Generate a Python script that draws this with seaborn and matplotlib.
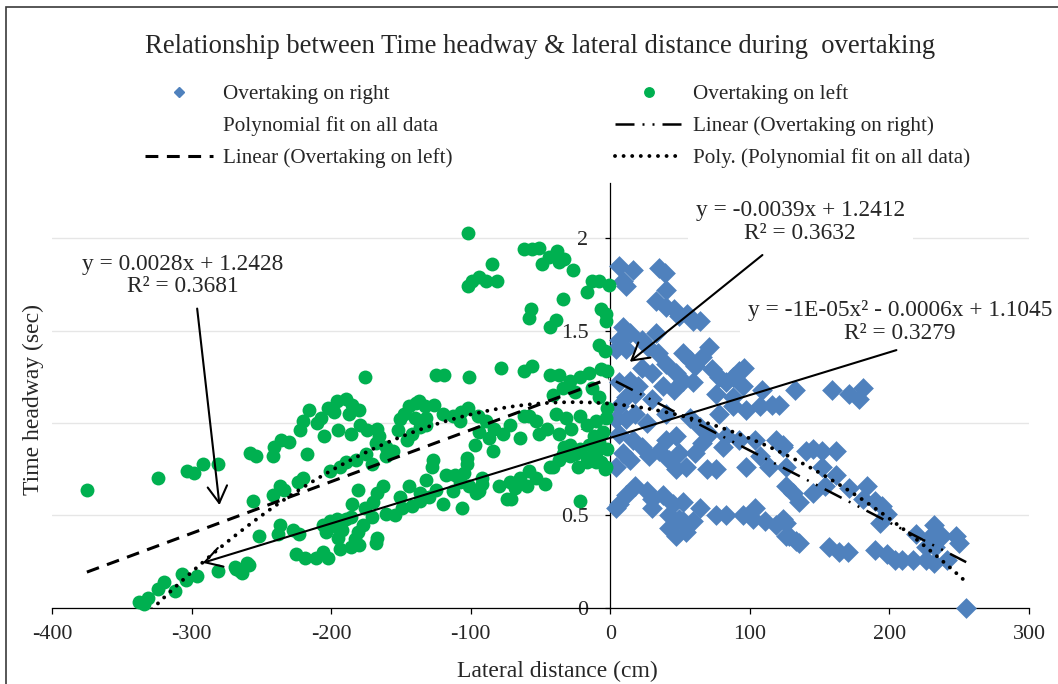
import numpy as np
import pandas as pd
import matplotlib
matplotlib.use("Agg")
import matplotlib.pyplot as plt
from matplotlib.lines import Line2D
from matplotlib.patches import Rectangle
import seaborn as sns

# ---------------- data ----------------
TITLE = "Relationship between Time headway & lateral distance during  overtaking"
X_LABEL = "Lateral distance (cm)"
Y_LABEL = "Time headway (sec)"
X_TICKS = [-400, -300, -200, -100, 0, 100, 200, 300]
Y_TICKS = [0, 0.5, 1, 1.5, 2]
Y_TICK_LABELS = ["0", "0.5", "1", "1.5", "2"]

SERIES_LABELS = ["Overtaking on right", "Polynomial fit on all data",
                 "Linear (Overtaking on left)", "Overtaking on left",
                 "Linear (Overtaking on right)", "Poly. (Polynomial fit on all data)"]

# Overtaking on right (blue diamonds)
RIGHT_X = [6, 16, 9, 11, 35, 39, 40, 33, 40, 46,
           49, 55, 59, 64, 6, 9, 14, 4, 11, 23,
           27, 34, 40, 23, 30, 14, 20, 6, 52, 57,
           71, 66, 61, 73, 78, 83, 88, 92, 96, 95,
           88, 52, 46, 47, 38, 30, 18, 11, 6, 4,
           11, 18, 26, 6, 16, 23, 9, 14, 4, 28,
           35, 40, 47, 42, 49, 54, 47, 61, 66, 64,
           71, 57, 40, 69, 76, 81, 83, 92, 78, 88,
           97, 107, 109, 116, 104, 119, 124, 107, 114, 97,
           126, 132, 140, 18, 11, 26, 30, 38, 6, 45,
           52, 42, 49, 42, 47, 54, 59, 64, 76, 83,
           95, 102, 104, 111, 119, 124, 128, 133, 30, 52,
           4, 159, 171, 178, 181, 121, 124, 145, 152, 162,
           152, 162, 154, 145, 135, 126, 131, 171, 184, 181,
           190, 195, 198, 193, 126, 135, 126, 157, 164, 170,
           190, 198, 204, 209, 217, 219, 230, 232, 238, 248,
           250, 233, 226, 232, 241, 226, 255, 33, 59, 76]
RIGHT_Y = [1.85, 1.83, 1.77, 1.74, 1.84, 1.81, 1.72, 1.66, 1.63, 1.62,
           1.58, 1.59, 1.55, 1.55, 1.45, 1.52, 1.49, 1.40, 1.40, 1.45,
           1.41, 1.38, 1.32, 1.30, 1.27, 1.23, 1.20, 1.22, 1.38, 1.34,
           1.41, 1.36, 1.31, 1.29, 1.25, 1.22, 1.25, 1.28, 1.30, 1.20,
           1.14, 1.23, 1.18, 1.27, 1.20, 1.13, 1.16, 1.14, 1.09, 1.02,
           1.02, 1.05, 1.00, 0.94, 0.91, 0.87, 0.84, 0.80, 0.76, 0.82,
           0.85, 0.91, 0.93, 0.80, 0.84, 0.76, 0.75, 0.84, 0.89, 0.98,
           0.94, 1.03, 1.05, 0.75, 0.75, 0.87, 0.93, 0.91, 1.05, 1.09,
           1.07, 1.09, 1.18, 1.10, 0.91, 0.91, 0.87, 0.82, 0.76, 0.76,
           0.76, 1.18, 0.85, 0.66, 0.61, 0.63, 0.59, 0.61, 0.56, 0.56,
           0.57, 0.50, 0.48, 0.43, 0.39, 0.41, 0.47, 0.54, 0.50, 0.50,
           0.50, 0.48, 0.54, 0.47, 0.45, 0.48, 0.39, 0.36, 0.54, 0.47,
           0.54, 1.18, 1.16, 1.13, 1.19, 1.10, 0.88, 0.86, 0.85, 0.85,
           0.76, 0.72, 0.66, 0.62, 0.57, 0.66, 0.62, 0.65, 0.66, 0.59,
           0.58, 0.55, 0.51, 0.46, 0.46, 0.35, 0.39, 0.33, 0.30, 0.30,
           0.31, 0.29, 0.26, 0.26, 0.26, 0.40, 0.39, 0.45, 0.39, 0.39,
           0.35, 0.33, 0.33, 0.24, 0.26, 0.26, 0.00, 1.49, 1.22, 1.16]

# Overtaking on left (green circles)
LEFT_X = [-375, -324, -303, -298, -292, -281, -258, -254, -256, -252,
          -259, -265, -269, -281, -296, -307, -304, -312, -320, -324,
          -331, -338, -334, -260, -268, -264, -176, -241, -236, -230,
          -242, -217, -220, -216, -222, -210, -205, -207, -202, -196,
          -198, -189, -185, -180, -187, -195, -186, -179, -174, -167,
          -166, -168, -161, -156, -152, -151, -148, -144, -139, -133,
          -132, -140, -136, -126, -125, -142, -146, -161, -171, -175,
          -182, -189, -194, -201, -220, -224, -237, -242, -234, -181,
          -185, -163, -167, -170, -176, -171, -177, -181, -183, -186,
          -180, -194, -195, -192, -189, -186, -196, -201, -206, -199,
          -204, -167, -168, -206, -202, -211, -219, -225, -227, -223,
          -237, -238, -161, -154, -151, -144, -149, -142, -136, -132,
          -128, -127, -130, -125, -136, -102, -102, -99, -94, -89,
          -85, -81, -62, -56, -51, -49, -44, -38, -37, -33,
          -27, -34, -57, -58, -43, -39, -17, -13, -8, -1,
          -7, -3, -3, -8, -4, -119, -101, -78, -62, -56,
          -43, -37, -29, -22, -15, -7, -2, -41, -34, -25,
          -13, -8, -2, -39, -32, -22, -28, -17, -10, -3,
          -37, -29, -34, -22, -15, -8, -2, -17, -10, -3,
          -7, -41, -25, -22, -107, -102, -95, -89, -83, -77,
          -72, -65, -58, -53, -51, -45, -62, -108, -94, -87,
          -97, -84, -103, -120, -113, -118, -111, -108, -101, -94,
          -92, -113, -120, -106, -80, -72, -74, -65, -58, -53,
          -47, -60, -68, -71, -43, -37, -29, -23, -17, -10,
          -4, -33, -105, -103, -96, -92, -137, -132, -5, -12]
LEFT_Y = [0.64, 0.70, 0.74, 0.73, 0.78, 0.78, 0.84, 0.82, 0.58, 0.39,
          0.23, 0.20, 0.22, 0.20, 0.17, 0.18, 0.15, 0.09, 0.14, 0.10,
          0.05, 0.03, 0.02, 0.24, 0.21, 0.19, 1.25, 0.87, 0.91, 0.90,
          0.82, 0.83, 1.01, 1.07, 0.96, 1.00, 0.93, 1.03, 1.08, 1.12,
          1.06, 1.13, 1.10, 1.07, 1.05, 0.96, 0.94, 0.99, 0.96, 0.97,
          0.93, 0.89, 0.87, 0.85, 0.96, 1.02, 1.05, 1.09, 1.11, 1.09,
          1.03, 1.03, 0.98, 1.10, 1.26, 0.94, 0.91, 0.82, 0.78, 0.83,
          0.80, 0.79, 0.76, 0.74, 0.70, 0.68, 0.66, 0.61, 0.64, 0.64,
          0.56, 0.66, 0.62, 0.57, 0.54, 0.49, 0.45, 0.41, 0.37, 0.33,
          0.34, 0.32, 0.38, 0.42, 0.48, 0.49, 0.48, 0.47, 0.45, 0.44,
          0.41, 0.38, 0.35, 0.30, 0.27, 0.27, 0.27, 0.29, 0.42, 0.40,
          0.45, 0.40, 0.51, 0.50, 0.60, 0.66, 0.54, 0.55, 0.62, 0.69,
          0.76, 0.80, 0.60, 0.64, 0.58, 2.03, 1.74, 1.77, 1.79, 1.77,
          1.86, 1.77, 1.94, 1.94, 1.95, 1.86, 1.90, 1.93, 1.87, 1.89,
          1.83, 1.67, 1.62, 1.57, 1.52, 1.56, 1.71, 1.77, 1.77, 1.75,
          1.62, 1.59, 1.55, 1.42, 1.39, 1.26, 1.25, 1.30, 1.28, 1.31,
          1.26, 1.26, 1.23, 1.25, 1.27, 1.29, 1.28, 1.15, 1.19, 1.17,
          1.19, 1.14, 1.08, 1.05, 1.03, 1.04, 0.97, 0.99, 1.01, 1.03,
          0.94, 0.88, 0.83, 0.86, 0.88, 0.90, 0.86, 0.79, 0.79, 0.76,
          0.79, 0.76, 0.83, 0.58, 1.06, 1.08, 1.04, 1.01, 0.97, 0.94,
          0.99, 0.92, 1.04, 1.01, 0.94, 0.97, 1.04, 1.01, 0.95, 0.92,
          0.88, 0.85, 0.81, 1.05, 1.04, 0.72, 0.72, 0.68, 0.66, 0.63,
          0.70, 0.63, 0.56, 0.54, 0.66, 0.68, 0.59, 0.70, 0.74, 0.70,
          0.67, 0.66, 0.65, 0.59, 0.76, 0.80, 0.82, 0.76, 0.81, 0.84,
          0.75, 0.87, 0.73, 0.78, 0.62, 0.67, 1.12, 0.99, 0.95, 0.93]

# trendline coefficients (highest power first), as labelled on the chart
LIN_LEFT = [0.0028, 1.2428]
LIN_RIGHT = [-0.0039, 1.2412]
POLY_ALL = [-1.23e-05, -0.00065, 1.1045]

EQ_LEFT = "y = 0.0028x + 1.2428\nR² = 0.3681"
EQ_RIGHT = "y = -0.0039x + 1.2412\nR² = 0.3632"
EQ_POLY = "y = -1E-05x² - 0.0006x + 1.1045\nR² = 0.3279"

# ---------------- style ----------------
BLUE = "#4F81BD"
GREEN = "#00B050"
sns.set_style("white")
plt.rcParams["font.family"] = ["Liberation Serif", "DejaVu Serif"]
plt.rcParams["axes.unicode_minus"] = False

W, H = 1058, 684
fig = plt.figure(figsize=(W / 100, H / 100), dpi=100)
ax = fig.add_axes([52 / W, 1 - 607.7 / H, 977 / W, (607.7 - 183) / H])

df_right = pd.DataFrame({"x": RIGHT_X, "y": RIGHT_Y})
df_left = pd.DataFrame({"x": LEFT_X, "y": LEFT_Y})

sns.scatterplot(data=df_right, x="x", y="y", marker="D", color=BLUE, s=112,
                linewidth=0, ax=ax, zorder=3, clip_on=False, legend=False)
sns.scatterplot(data=df_left, x="x", y="y", marker="o", color=GREEN, s=100,
                linewidth=0, ax=ax, zorder=4, clip_on=False, legend=False)

DASHED = (0, (4.2, 2.8))
DASHDOTDOT = (0, (7.6, 3.2, 0.8, 3.2, 0.8, 3.2))
DOTTED = (0, (0.01, 2.2))

xl = np.linspace(min(LEFT_X), max(LEFT_X), 200)
ax.plot(xl, np.polyval(LIN_LEFT, xl), color="black", lw=2.2, linestyle=DASHED, zorder=5)
xr = np.linspace(min(RIGHT_X), max(RIGHT_X), 200)
ax.plot(xr, np.polyval(LIN_RIGHT, xr), color="black", lw=1.8, linestyle=DASHDOTDOT, zorder=5)
all_x = LEFT_X + RIGHT_X
xa = np.linspace(min(all_x), max(all_x), 400)
ax.plot(xa, np.polyval(POLY_ALL, xa), color="black", lw=2.8, linestyle=DOTTED,
        dash_capstyle="round", zorder=5)

# axes
ax.set_xlim(-400, 300)
ax.set_ylim(0, 2.3)
ax.set_xticks(X_TICKS)
ax.set_yticks(Y_TICKS)
ax.set_yticklabels(Y_TICK_LABELS)
for s in ["top", "right"]:
    ax.spines[s].set_visible(False)
ax.spines["left"].set_position(("data", 0))
for s in ["left", "bottom"]:
    ax.spines[s].set_color("black")
    ax.spines[s].set_linewidth(0.9)
    ax.spines[s].set_zorder(2.5)
ax.tick_params(axis="x", direction="out", length=4.3, width=0.9, pad=8,
               labelsize=15.8, color="black", bottom=True)
ax.tick_params(axis="y", direction="out", length=3.6, width=0.9, pad=12,
               labelsize=15.8, color="black", left=True)
ax.yaxis.grid(True, color="#e6e6e6", lw=1.0)
ax.xaxis.grid(False)
ax.set_axisbelow(True)

ax.set_xlabel(X_LABEL, fontsize=17, va="center")
ax.xaxis.set_label_coords((557 - 52) / 977, (607.7 - 671) / 424.7)
ax.set_ylabel(Y_LABEL, fontsize=17, va="center")
ax.yaxis.set_label_coords((33 - 52) / 977, 0.49)

fig.text(540 / W, 1 - 46.7 / H, TITLE, ha="center", va="center", fontsize=19.2)

# equation labels
box = dict(boxstyle="square,pad=0.35", fc="white", ec="none")
box_small = dict(boxstyle="square,pad=0.2", fc="white", ec="none")
ax.text(-306.6, 1.80, EQ_LEFT, ha="center", va="center", multialignment="center",
        fontsize=16.8, linespacing=1.1, bbox=box_small, zorder=6, clip_on=False)
ax.text(136.1, 2.09, EQ_RIGHT, ha="center", va="center", multialignment="center",
        fontsize=16.8, linespacing=1.1, bbox=box, zorder=6, clip_on=False)
ax.text(207.5, 1.548, EQ_POLY, ha="center", va="center", multialignment="center",
        fontsize=16.8, linespacing=1.1, bbox=box, zorder=6, clip_on=False)

arrow = dict(arrowstyle="->,head_length=0.6,head_width=0.35", lw=1.5, color="black",
             mutation_scale=20, shrinkA=0, shrinkB=0)
ax.annotate("", xy=(-280, 0.556), xytext=(-296, 1.62), arrowprops=arrow, zorder=7)
ax.annotate("", xy=(14, 1.332), xytext=(109, 1.91), arrowprops=arrow, zorder=7)
ax.annotate("", xy=(-292, 0.243), xytext=(205, 1.395), arrowprops=arrow, zorder=7)

# legend
handles = [
    Line2D([], [], marker="D", color=BLUE, markersize=5.4, linestyle="none"),
    Line2D([], [], linestyle="none"),
    Line2D([], [], color="black", lw=2.2, linestyle=DASHED),
    Line2D([], [], marker="o", color=GREEN, markersize=6.8, linestyle="none"),
    Line2D([], [], color="black", lw=1.8, linestyle=DASHDOTDOT),
    Line2D([], [], color="black", lw=2.8, linestyle=DOTTED, dash_capstyle="round"),
]
fig.legend(handles, SERIES_LABELS, ncol=2, loc="upper left",
           bbox_to_anchor=(145 / W, 1 - 84 / H), frameon=False, fontsize=15.2,
           handlelength=3.2, handletextpad=0.5, columnspacing=7.7,
           labelspacing=0.58, borderpad=0, borderaxespad=0)

# chart border
fig.patches.append(Rectangle((6 / W, -0.05), 1.2, 1.05 - 7 / H, transform=fig.transFigure,
                             fill=False, edgecolor="#3a3a3a", lw=1.2))

fig.savefig("out.png", dpi=100)
